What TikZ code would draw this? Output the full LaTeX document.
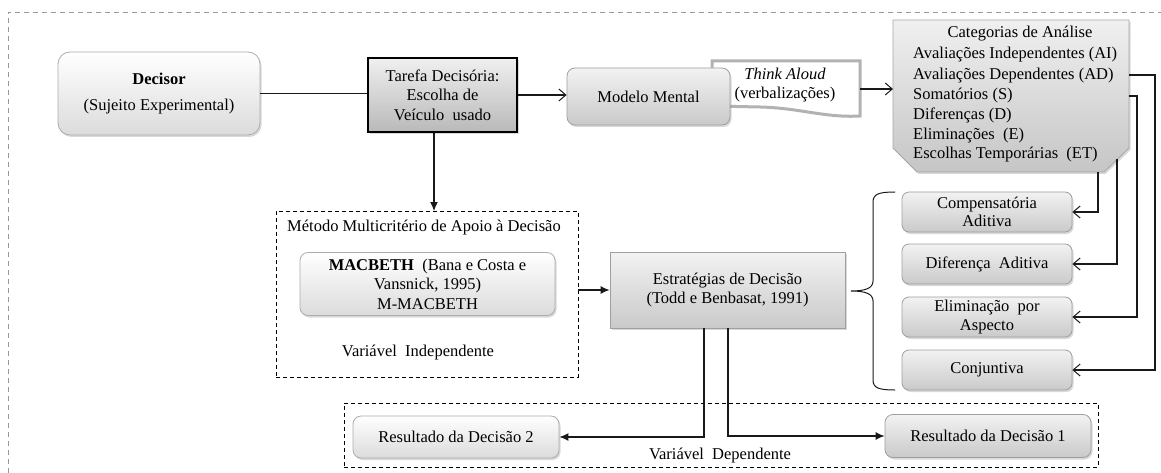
\documentclass[tikz,border=0pt]{standalone}
\usepackage{fontspec}
\setmainfont{Liberation Serif}
\usetikzlibrary{arrows.meta,shadows,calc}
\begin{document}
\begin{tikzpicture}[x=1pt,y=-1pt,
  every node/.style={font=\fontsize{16.5}{19.5}\selectfont, align=center, inner sep=0pt},
  shad/.style={drop shadow={shadow xshift=1.5pt,shadow yshift=-2pt,opacity=0.3}},
  lightbox/.style={draw=gray!65, line width=0.8pt, top color=white, bottom color=gray!28, rounded corners=10pt, shad},
  midbox/.style={draw=gray!75, line width=0.8pt, top color=gray!10, bottom color=gray!42, rounded corners=8pt, shad},
  tarbox/.style={draw=black, line width=1.3pt, top color=gray!12, bottom color=gray!55, shad},
  sbox/.style={midbox, rounded corners=7pt, minimum width=170pt, minimum height=40pt},
  dbox/.style={draw=black, line width=0.9pt, dash pattern=on 4pt off 3pt},
  frame/.style={draw=gray!80, line width=0.8pt, dash pattern=on 5pt off 4pt},
  conn/.style={draw=black!90, line width=1.2pt},
  arr/.style={conn, -{Straight Barb[length=7pt,width=12pt,line width=1pt]}},
  farr/.style={conn, -{Latex[length=9pt,width=8pt]}}
]
\useasboundingbox (0,0) rectangle (1161,473);

% outer frame
\draw[frame] (8,473) -- (8,12) -- (1161,12);

% Decisor
\node[lightbox, rounded corners=12pt, minimum width=202pt, minimum height=83pt] (dec) at (159,93.5)
  {\textbf{Decisor}\\[6pt](Sujeito Experimental)};

% Tarefa
\node[tarbox, minimum width=149pt, minimum height=74pt] (tar) at (442.5,95)
  {Tarefa Decisória:\\Escolha de\\Veículo\ \ usado};

% Think aloud document shape
\path[draw=gray!60, line width=3pt, fill=white]
  (712,61) -- (860,61) -- (860,116) .. controls (825,118) and (800,108) .. (760,107) -- (712,106) -- cycle;
\node (think) at (785,85) {\textit{Think Aloud}\\(verbalizações)};

% Modelo mental
\node[midbox, minimum width=163pt, minimum height=57pt] (mm) at (648.5,96.5) {Modelo Mental};

% Categorias
\path[draw=gray!70, line width=0.8pt, top color=gray!12, bottom color=gray!45, shad]
  (893,20) -- (1129,20) -- (1129,148) -- (1104,172) -- (917,172) -- (893,148) -- cycle;
\node (cat) at (1020,34) {Categorias de Análise};
\node[anchor=west] (c1) at (913,55) {Avaliações Independentes (AI)};
\node[anchor=west] (c2) at (913,75.5) {Avaliações Dependentes (AD)};
\node[anchor=west] (c3) at (913,95.5) {Somatórios (S)};
\node[anchor=west] (c4) at (913,115.5) {Diferenças (D)};
\node[anchor=west] (c5) at (913,135.5) {Eliminações\ \ (E)};
\node[anchor=west] (c6) at (913,155) {Escolhas Temporárias\ \ (ET)};

% strategy boxes
\node[sbox] (comp) at (987,212) {Compensatória\\[-1.5pt]Aditiva};
\node[sbox] (dif) at (987,264) {Diferença\ \ Aditiva};
\node[sbox] (elim) at (987,317) {Eliminação\ \ por\\[-1pt]Aspecto};
\node[sbox] (conj) at (987,370) {Conjuntiva};

% connectors from categories
\coordinate (o1) at (1129,75);
\coordinate (o2) at (1129,96);
\coordinate (o3) at (1117,159.5);
\coordinate (o4) at (1098,172);
\draw[arr] (o1) -- (1155,75) |- (conj.east);
\draw[arr] (o2) -- (1137,96) |- (elim.east);
\draw[arr] (o3) |- (dif.east);
\draw[arr] (o4) |- (comp.east);

% top arrows
\draw[conn] (dec.east) -- (dec.east -| tar.west);
\draw[arr] (tar.east) -- (tar.east -| mm.west);
\coordinate (thr) at (860,89);
\coordinate (catw) at (893,89);
\draw[arr] (thr) -- (catw);

% Metodo box
\node[dbox, minimum width=302pt, minimum height=166pt] (met) at (427,294) {};
\node (metT) at (424,228) {Método Multicritério\ de Apoio à Decisão};
\node (vi) at (418,353) {Variável\ \ Independente};
\node[lightbox, rounded corners=8pt, minimum width=255pt, minimum height=63pt] (mac) at (427.5,284)
  {\textbf{MACBETH}\ \ (Bana e Costa e\\Vansnick, 1995)\\M-MACBETH};
\coordinate (mt) at (434,211);
\draw[farr] (tar.south -| mt) -- (mt);

% Estrategias
\node[midbox, rounded corners=0pt, minimum width=235pt, minimum height=76pt] (est) at (727.5,290)
  {Estratégias de Decisão\\(Todd e Benbasat, 1991)};
\draw[farr] (met.east |- est.west) -- (est.west);

% brace
\draw[conn, line width=1pt] (895,192) .. controls (879,192) and (873,194) .. (873,202) -- (873,281)
  .. controls (873,288) and (866,291) .. (851,291)
  .. controls (866,291) and (873,294) .. (873,301) -- (873,380)
  .. controls (873,388) and (879,390) .. (895,390);

% Variavel dependente
\node[dbox, minimum width=754pt, minimum height=64pt] (vd) at (721,435) {};
\node (vdT) at (720,456) {Variável\ \ Dependente};
\node[lightbox, rounded corners=8pt, minimum width=206pt, minimum height=42pt] (r2) at (456,437) {Resultado da Decisão 2};
\node[midbox, minimum width=206pt, minimum height=43pt] (r1) at (988,436) {Resultado da Decisão 1};
\draw[farr] ($(est.south)+(-23.5,0)$) |- (r2.east);
\draw[farr] ($(est.south)+(0.5,0)$) |- (r1.west);
\end{tikzpicture}
\end{document}
